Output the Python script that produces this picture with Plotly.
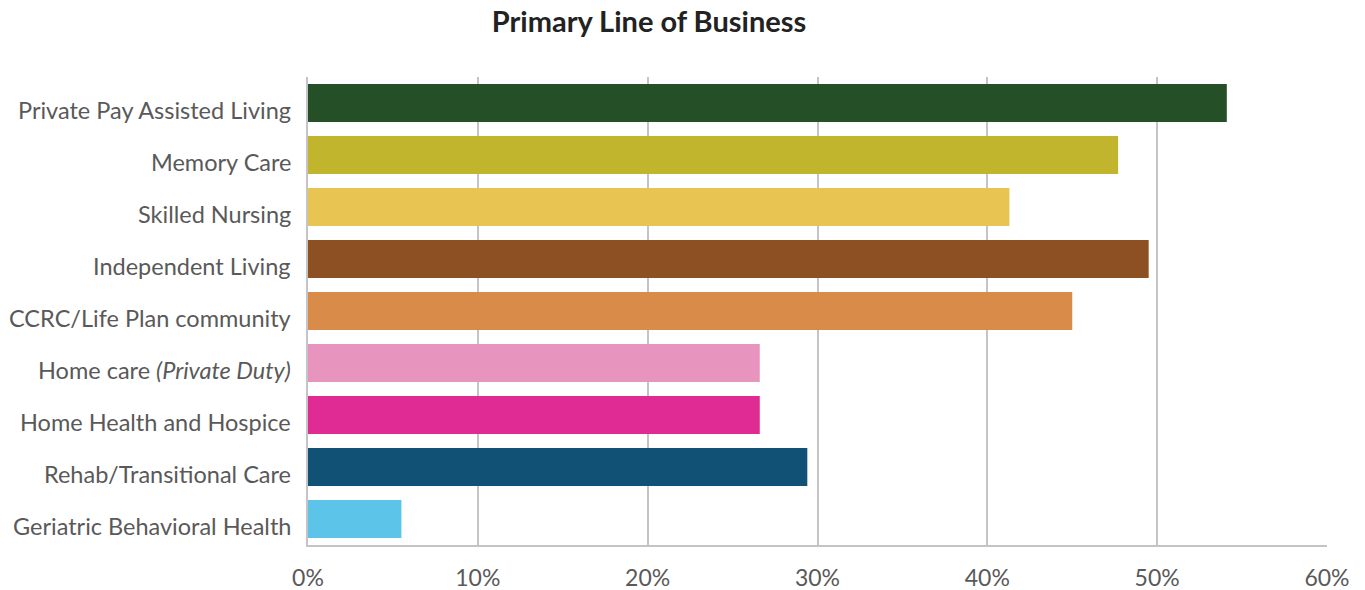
import plotly.graph_objects as go

categories = [
    "Private Pay Assisted Living",
    "Memory Care",
    "Skilled Nursing",
    "Independent Living",
    "CCRC/Life Plan community",
    "Home care <i>(Private Duty)</i>",
    "Home Health and Hospice",
    "Rehab/Transitional Care",
    "Geriatric Behavioral Health",
]
values = [54.1, 47.7, 41.3, 49.5, 45.0, 26.6, 26.6, 29.4, 5.5]
colors = [
    "#255027", "#c2b52e", "#e8c553", "#8d5023", "#d98b4a",
    "#e794bf", "#e02b94", "#115176", "#5bc4e8",
]
tick_vals = [0, 10, 20, 30, 40, 50, 60]
tick_text = ["0%", "10%", "20%", "30%", "40%", "50%", "60%"]

fig = go.Figure(
    go.Bar(
        x=values,
        y=categories,
        orientation="h",
        marker=dict(color=colors, line=dict(width=0)),
        hovertemplate="%{y}: %{x}%<extra></extra>",
    )
)

# Category labels sit slightly below each bar's centre line
for cat in categories:
    fig.add_annotation(
        x=0,
        xref="paper",
        y=cat,
        yref="y",
        text=cat,
        showarrow=False,
        xanchor="right",
        yanchor="middle",
        xshift=-15,
        yshift=-7,
        font=dict(family="Lato, sans-serif", size=23.5, color="#595959"),
    )

fig.update_layout(
    width=1365,
    height=590,
    margin=dict(l=308, r=38, t=77, b=45, autoexpand=False),
    paper_bgcolor="white",
    plot_bgcolor="white",
    bargap=0.27,
    showlegend=False,
    font=dict(family="Lato, 'Open Sans', sans-serif", color="#595959"),
    title=dict(
        text="<b>Primary Line of Business</b>",
        x=649 / 1365,
        xref="container",
        xanchor="center",
        y=1 - 22 / 590,
        yref="container",
        yanchor="middle",
        font=dict(family="Lato, sans-serif", size=29, color="#222222"),
    ),
    xaxis=dict(
        range=[0, 60],
        tickvals=tick_vals,
        ticktext=tick_text,
        showgrid=True,
        gridcolor="#c4c4c8",
        gridwidth=2,
        zeroline=False,
        showline=True,
        linecolor="#c4c4c8",
        linewidth=2,
        ticks="",
        ticklabelstandoff=11,
        tickfont=dict(size=23, color="#595959"),
        automargin=False,
        fixedrange=True,
    ),
    yaxis=dict(
        autorange="reversed",
        showline=True,
        linecolor="#c4c4c8",
        linewidth=2,
        showgrid=False,
        ticks="",
        showticklabels=False,
        automargin=False,
        fixedrange=True,
    ),
)

fig.write_html("out.html")
